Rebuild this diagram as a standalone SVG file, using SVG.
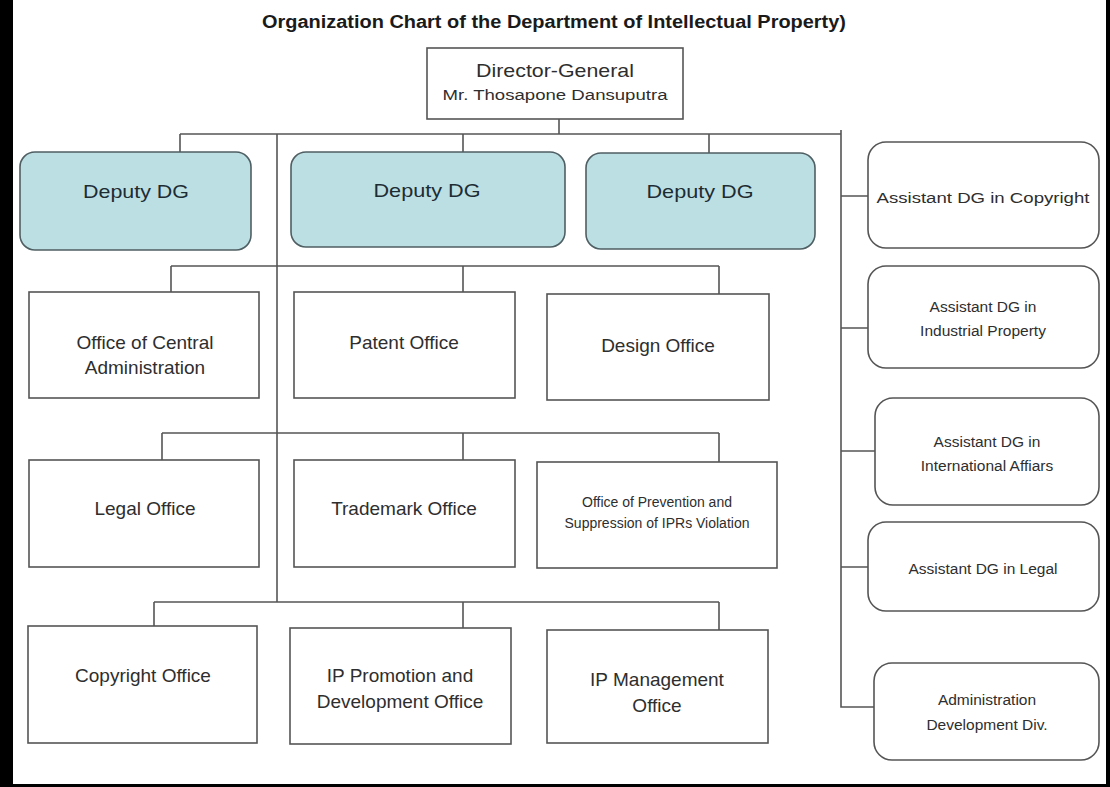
<svg xmlns="http://www.w3.org/2000/svg" width="1110" height="787" viewBox="0 0 1110 787">
<style>
text{font-family:"Liberation Sans",Arial,sans-serif;fill:#2e2e2e;text-anchor:middle}
.title{font-size:18px;font-weight:bold;fill:#1a1a1a}
.box{fill:#fff;stroke:#555;stroke-width:1.6}
.dep{fill:#bcdfe3;stroke:#4f5f63;stroke-width:1.6}
.asst{fill:#fff;stroke:#555;stroke-width:1.6}
.conn path{fill:none;stroke:#555;stroke-width:1.6}
.big{font-size:19px}
.dt{font-size:19px;fill:#1d2c33}
.sm{font-size:14px}
.as{font-size:15.5px}
</style>
<rect x="0" y="0" width="1110" height="787" fill="#fff"/>
<rect x="0" y="0" width="13" height="787" fill="#000"/>
<rect x="1106" y="0" width="4" height="787" fill="#000"/>
<rect x="0" y="784" width="1110" height="3" fill="#000"/>
<text class="title" x="554" y="28" textLength="584" lengthAdjust="spacingAndGlyphs">Organization Chart of the Department of Intellectual Property)</text>
<g class="conn">
<path d="M559 119V134"/>
<path d="M180 134H841"/>
<path d="M841 130V707H874"/>
<path d="M841 196H868M841 328H868M841 451H875M841 567H868"/>
<path d="M180 134V152M463 134V152M709 134V153"/>
<path d="M277 134V602"/>
<path d="M171 266H719M171 266V292M463 266V292M719 266V294"/>
<path d="M162 433H719M162 433V460M463 433V460M719 433V462"/>
<path d="M154 602H719M154 602V626M463 602V628M719 602V630"/>
</g>
<g id="director">
<rect class="box" x="427" y="48" width="256" height="71"/>
<text class="big" x="555" y="77" textLength="158" lengthAdjust="spacingAndGlyphs">Director-General</text>
<text x="555" y="100" font-size="15.5" textLength="225" lengthAdjust="spacingAndGlyphs">Mr. Thosapone Dansuputra</text>
</g>
<g id="deputy1">
<rect class="dep" x="20" y="152" width="231" height="98" rx="15"/>
<text class="dt" x="136" y="198" textLength="106" lengthAdjust="spacingAndGlyphs">Deputy DG</text>
</g>
<g id="deputy2">
<rect class="dep" x="291" y="152" width="274" height="95" rx="15"/>
<text class="dt" x="427" y="197" textLength="107" lengthAdjust="spacingAndGlyphs">Deputy DG</text>
</g>
<g id="deputy3">
<rect class="dep" x="586" y="153" width="229" height="96" rx="15"/>
<text class="dt" x="700" y="198" textLength="107" lengthAdjust="spacingAndGlyphs">Deputy DG</text>
</g>
<g id="central-admin">
<rect class="box" x="29" y="292" width="230" height="106"/>
<text class="big" x="145" y="349">Office of Central</text>
<text class="big" x="145" y="374">Administration</text>
</g>
<g id="patent">
<rect class="box" x="294" y="292" width="221" height="106"/>
<text class="big" x="404" y="349">Patent Office</text>
</g>
<g id="design">
<rect class="box" x="547" y="294" width="222" height="106"/>
<text class="big" x="658" y="352">Design Office</text>
</g>
<g id="legal">
<rect class="box" x="29" y="460" width="230" height="107"/>
<text class="big" x="145" y="515">Legal Office</text>
</g>
<g id="trademark">
<rect class="box" x="294" y="460" width="221" height="107"/>
<text class="big" x="404" y="515">Trademark Office</text>
</g>
<g id="prevention">
<rect class="box" x="537" y="462" width="240" height="106"/>
<text class="sm" x="657" y="507">Office of Prevention and</text>
<text class="sm" x="657" y="528">Suppression of IPRs Violation</text>
</g>
<g id="copyright">
<rect class="box" x="28" y="626" width="229" height="117"/>
<text class="big" x="143" y="682">Copyright Office</text>
</g>
<g id="promotion">
<rect class="box" x="290" y="628" width="221" height="116"/>
<text class="big" x="400" y="682">IP Promotion and</text>
<text class="big" x="400" y="708">Development Office</text>
</g>
<g id="management">
<rect class="box" x="547" y="630" width="221" height="113"/>
<text class="big" x="657" y="686">IP Management</text>
<text class="big" x="657" y="712">Office</text>
</g>
<g id="asst-copyright">
<rect class="asst" x="868" y="142" width="231" height="106" rx="18"/>
<text class="as" x="983" y="203" textLength="213" lengthAdjust="spacingAndGlyphs">Assistant DG in Copyright</text>
</g>
<g id="asst-industrial">
<rect class="asst" x="868" y="266" width="231" height="102" rx="18"/>
<text class="as" x="983" y="312">Assistant DG in</text>
<text class="as" x="983" y="336">Industrial Property</text>
</g>
<g id="asst-international">
<rect class="asst" x="875" y="398" width="224" height="107" rx="18"/>
<text class="as" x="987" y="447">Assistant DG in</text>
<text class="as" x="987" y="471">International Affiars</text>
</g>
<g id="asst-legal">
<rect class="asst" x="868" y="522" width="231" height="89" rx="18"/>
<text class="as" x="983" y="574">Assistant DG in Legal</text>
</g>
<g id="admin-dev">
<rect class="asst" x="874" y="663" width="225" height="97" rx="18"/>
<text class="as" x="987" y="705">Administration</text>
<text class="as" x="987" y="730">Development Div.</text>
</g>
</svg>
